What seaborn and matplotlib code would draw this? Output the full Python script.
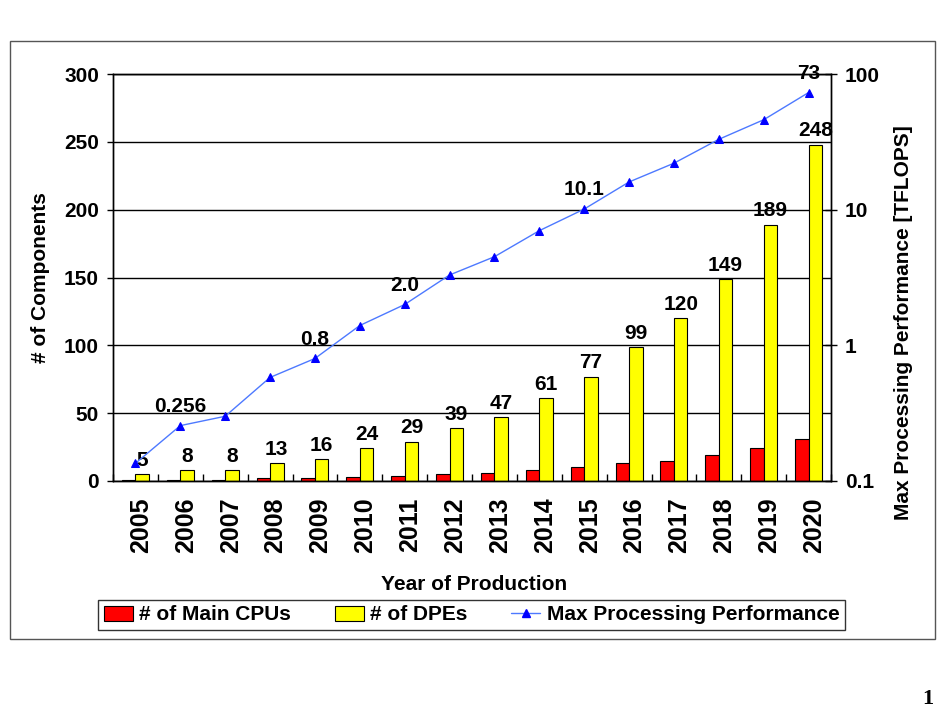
import matplotlib
matplotlib.use('Agg')
import matplotlib.pyplot as plt
import matplotlib.ticker as mticker
import matplotlib.transforms as mtransforms
from matplotlib.lines import Line2D
from matplotlib.patches import Patch, Rectangle
import numpy as np
import pandas as pd
import seaborn as sns

YEARS = ['2005', '2006', '2007', '2008', '2009', '2010', '2011', '2012',
         '2013', '2014', '2015', '2016', '2017', '2018', '2019', '2020']
MAIN_CPUS = [0.5, 0.5, 0.5, 2, 2, 3, 4, 5, 6, 8, 10, 13, 15, 19, 24, 31]
DPES = [5, 8, 8, 13, 16, 24, 29, 39, 47, 61, 77, 99, 120, 149, 189, 248]
MAX_PERF = [0.135, 0.256, 0.3, 0.58, 0.8, 1.4, 2.0, 3.3, 4.5, 7.0,
            10.1, 16, 22, 33, 46, 73]
PERF_LABELS = {'2006': '0.256', '2009': '0.8', '2011': '2.0',
               '2015': '10.1', '2020': '73'}

CPU_NAME = '# of Main CPUs'
DPE_NAME = '# of DPEs'
PERF_NAME = 'Max Processing Performance'
FS = 15

sns.set_theme(style='ticks')
plt.rcParams['font.family'] = ['Liberation Sans', 'DejaVu Sans']
plt.rcParams['font.weight'] = 'bold'
plt.rcParams['axes.labelweight'] = 'bold'
for key in ['text.color', 'axes.labelcolor', 'xtick.color', 'ytick.color',
            'axes.edgecolor']:
    plt.rcParams[key] = 'black'

df = pd.DataFrame({
    'Year': YEARS * 2,
    'Count': MAIN_CPUS + DPES,
    'Series': [CPU_NAME] * len(YEARS) + [DPE_NAME] * len(YEARS),
})

fig = plt.figure(figsize=(9.41, 7.15), dpi=100)
ax = fig.add_axes([113 / 941, 1 - 481 / 715, 718 / 941, 407 / 715])

sns.barplot(data=df, x='Year', y='Count', hue='Series',
            palette=['#FF0000', '#FFFF00'], saturation=1, width=0.6,
            edgecolor='black', linewidth=0.8, legend=False, ax=ax)
ax.bar_label(ax.containers[1], labels=[str(v) for v in DPES], padding=3,
             fontsize=FS, fontweight='bold')

ax.set_ylim(0, 300)
ax.set_xlim(-0.5, len(YEARS) - 0.5)
ax.set_yticks(range(0, 301, 50))
ax.set_axisbelow(True)
ax.grid(axis='y', color='black', lw=1)
ax.tick_params(axis='y', which='major', direction='out', length=4, width=1,
               pad=6, labelsize=FS, left=True)
ax.tick_params(axis='x', which='major', length=0, pad=12, labelsize=18,
               labelrotation=90)
ax.set_xticks(np.arange(-0.5, len(YEARS), 1), minor=True)
ax.tick_params(axis='x', which='minor', direction='in', length=5, width=1,
               bottom=True)
# year labels sit a few pixels right of the category centre in the original
shift = mtransforms.ScaledTranslation(4 / 72, 0, fig.dpi_scale_trans)
for lbl in ax.get_xticklabels():
    lbl.set_transform(lbl.get_transform() + shift)
for sp in ax.spines.values():
    sp.set_color('black')
    sp.set_linewidth(1)

ax.set_xlabel('Year of Production', fontsize=FS, fontweight='bold')
ax.set_ylabel('# of Components', fontsize=FS, fontweight='bold')
ax.xaxis.set_label_coords(0.503, -0.231)
ax.yaxis.set_label_coords(-0.088, 0.5)

ax2 = ax.twinx()
sns.lineplot(x=np.arange(len(YEARS)), y=MAX_PERF, ax=ax2, color='#4D79FF',
             lw=1, marker='^', markersize=6, markerfacecolor='#0000FF',
             markeredgecolor='#0000FF')
ax2.set_yscale('log')
ax2.set_ylim(0.1, 100)
ax2.yaxis.set_major_locator(mticker.FixedLocator([0.1, 1, 10, 100]))
ax2.yaxis.set_major_formatter(mticker.FuncFormatter(lambda v, p: f'{v:g}'))
ax2.yaxis.set_minor_locator(mticker.NullLocator())
ax2.tick_params(axis='y', which='major', direction='inout', length=8,
                width=1, pad=6, labelsize=FS, right=True)
ax2.set_ylabel('Max Processing Performance [TFLOPS]', fontsize=FS,
               fontweight='bold')
ax2.yaxis.set_label_coords(1.088, 0.39)
for sp in ax2.spines.values():
    sp.set_color('black')
    sp.set_linewidth(1)

for i, year in enumerate(YEARS):
    if year in PERF_LABELS:
        ax2.annotate(PERF_LABELS[year], (i, MAX_PERF[i]), xytext=(0, 10),
                     textcoords='offset points', ha='center', va='baseline',
                     fontsize=FS, fontweight='bold')

handles = [
    Patch(facecolor='#FF0000', edgecolor='black', lw=0.8),
    Patch(facecolor='#FFFF00', edgecolor='black', lw=0.8),
    Line2D([], [], color='#4D79FF', lw=1, marker='^', markersize=6,
           markerfacecolor='#0000FF', markeredgecolor='#0000FF'),
]
leg = fig.legend(handles, [CPU_NAME, DPE_NAME, PERF_NAME], loc='center',
                 bbox_to_anchor=(471.5 / 941, 1 - 615 / 715), ncol=3,
                 frameon=True, fancybox=False, edgecolor='black',
                 prop={'size': FS, 'weight': 'bold'}, columnspacing=2.1,
                 handlelength=1.4, handletextpad=0.3, borderpad=0.25)
leg.get_frame().set_linewidth(1)

fig.add_artist(Rectangle((10 / 941, 1 - 639 / 715), 925 / 941, 598 / 715,
                         transform=fig.transFigure, fill=False,
                         edgecolor='#555555', lw=1))
fig.text(928 / 941, 1 - 699 / 715, '1', ha='center', va='center',
         fontsize=16, fontweight='bold', family='Liberation Serif')

fig.savefig('out.png', dpi=100)
